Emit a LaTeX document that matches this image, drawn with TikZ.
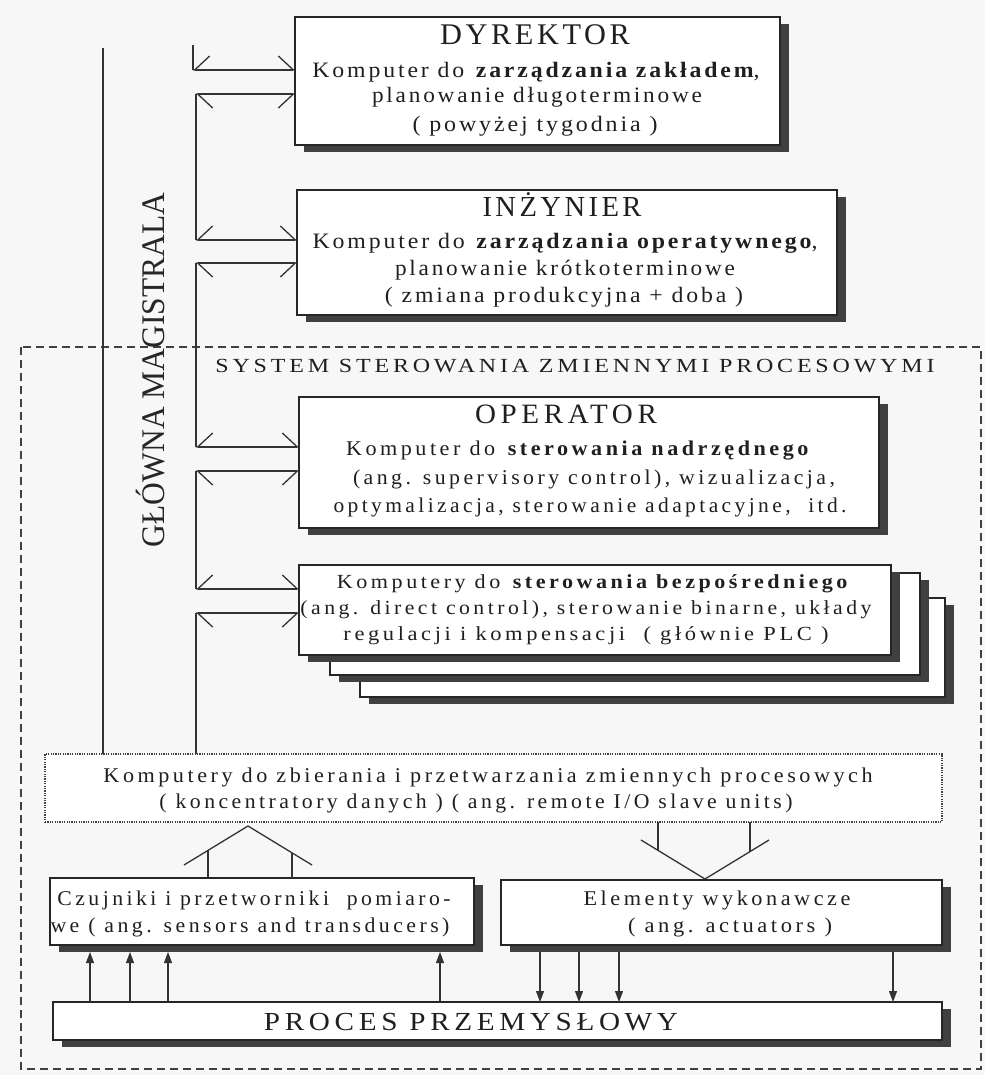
\documentclass[tikz,border=0pt]{standalone}
\usepackage{fontspec}
\setmainfont{Liberation Serif}
\newfontfamily\spc[LetterSpace=12]{Liberation Serif}
\newfontfamily\spcn[LetterSpace=14,FakeStretch=0.88]{Liberation Serif}
\usetikzlibrary{arrows.meta,shadows}
\newcommand\fitw[2]{\resizebox{#1pt}{\height}{#2}}
\tikzset{
  box/.style={draw=black!85, line width=1.3pt, fill=white, inner sep=0pt, outer sep=0pt, anchor=north west,
    drop shadow={shadow xshift=9pt, shadow yshift=-7pt, fill=black!75, opacity=1}},
  dotbox/.style={draw=black!75, line width=1.4pt, dash pattern=on 1.2pt off 1.2pt, fill=white, inner sep=0pt, outer sep=0pt, anchor=north west},
  txt/.style={inner sep=0pt, anchor=base, text=black!88},
  ln/.style={draw=black!80, line width=1.3pt},
  busU/.style={ln, {Straight Barb[harpoon,swap,length=15pt,width=28pt]}-{Straight Barb[harpoon,length=15pt,width=28pt]}},
  busD/.style={ln, {Straight Barb[harpoon,length=15pt,width=28pt]}-{Straight Barb[harpoon,swap,length=15pt,width=28pt]}},
  sig/.style={ln, line width=1.1pt, -{Triangle[length=11pt,width=8pt]}},
  frame/.style={draw=black!75, line width=1.2pt, dash pattern=on 8pt off 5pt}
}
\begin{document}
\begin{tikzpicture}[x=1pt,y=-1pt]
\useasboundingbox[fill=black!3] (0,0) rectangle (985,1075);
% dashed frame
\draw[frame] (21,347) rectangle (981,1069);
% boxes
\node[box, minimum width=485pt, minimum height=128pt] (dyr) at (295,17) {};
\node[box, minimum width=540pt, minimum height=125pt] (inz) at (297,190) {};
\node[box, minimum width=580pt, minimum height=131pt] (oper) at (299,397) {};
\node[box, minimum width=585pt, minimum height=99pt] (dc3) at (360,598) {};
\node[box, minimum width=590pt, minimum height=102pt] (dc2) at (330,573) {};
\node[box, minimum width=592pt, minimum height=90pt] (dc1) at (299,565) {};
\node[dotbox, minimum width=897pt, minimum height=68pt] (konc) at (45,754) {};
\node[box, minimum width=424pt, minimum height=67pt] (sens) at (50,878) {};
\node[box, minimum width=441pt, minimum height=65pt] (act) at (501,880) {};
\node[box, minimum width=889pt, minimum height=38pt] (proc) at (53,1002) {};
% texts
\node[txt] (td1) at (535,45) {\fontsize{30}{30}\selectfont\spc\fitw{190}{DYREKTOR}};
\node[txt] (td2) at (536,78) {\fontsize{22}{22}\selectfont\spc\fitw{447}{Komputer do \textbf{zarządzania zakładem},}};
\node[txt] (td3) at (537,103) {\fontsize{22}{22}\selectfont\spc\fitw{330}{planowanie długoterminowe}};
\node[txt] (td4) at (535,132) {\fontsize{22}{22}\selectfont\spc\fitw{245}{( powyżej tygodnia )}};
\node[txt] (ti1) at (562,217) {\fontsize{29}{29}\selectfont\spc\fitw{159}{INŻYNIER}};
\node[txt] (ti2) at (565,248) {\fontsize{22}{22}\selectfont\spc\fitw{505}{Komputer do \textbf{zarządzania operatywnego},}};
\node[txt] (ti3) at (565,275) {\fontsize{22}{22}\selectfont\spc\fitw{340}{planowanie krótkoterminowe}};
\node[txt] (ti4) at (564,302) {\fontsize{22}{22}\selectfont\spc\fitw{358}{( zmiana produkcyjna + doba )}};
\node[txt] (tsys) at (575,372) {\fontsize{20}{20}\selectfont\spcn\fitw{719}{SYSTEM STEROWANIA ZMIENNYMI PROCESOWYMI}};
\node[txt] (to1) at (566,423) {\fontsize{28}{28}\selectfont\spcn\fitw{182}{OPERATOR}};
\node[txt] (to2) at (579,455) {\fontsize{21}{21}\selectfont\spcn\fitw{466}{Komputer do \textbf{sterowania nadrzędnego}}};
\node[txt] (to3) at (594,484) {\fontsize{21}{21}\selectfont\spcn\fitw{482}{(ang. supervisory control), wizualizacja,}};
\node[txt] (to4) at (590,512) {\fontsize{21}{21}\selectfont\spcn\fitw{513}{optymalizacja, sterowanie adaptacyjne,\ \ itd.}};
\node[txt] (tc1) at (594,588) {\fontsize{20}{20}\selectfont\spcn\fitw{514}{Komputery do \textbf{sterowania bezpośredniego}}};
\node[txt] (tc2) at (586,614) {\fontsize{20}{20}\selectfont\spcn\fitw{571}{(ang. direct control), sterowanie binarne, układy}};
\node[txt] (tc3) at (586,640) {\fontsize{20}{20}\selectfont\spcn\fitw{485}{regulacji i kompensacji\ \ ( głównie PLC )}};
\node[txt] (tk1) at (488,782) {\fontsize{21}{21}\selectfont\spcn\fitw{769}{Komputery do zbierania i przetwarzania zmiennych procesowych}};
\node[txt] (tk2) at (476,808) {\fontsize{21}{21}\selectfont\spcn\fitw{633}{( koncentratory danych ) ( ang. remote I/O slave units)}};
\node[txt] (ts1) at (254,905) {\fontsize{21}{21}\selectfont\spcn\fitw{393}{Czujniki i przetworniki\ \ pomiaro-}};
\node[txt] (ts2) at (250,932) {\fontsize{21}{21}\selectfont\spcn\fitw{399}{we ( ang. sensors and transducers)}};
\node[txt] (ta1) at (717,905) {\fontsize{21}{21}\selectfont\spcn\fitw{267}{Elementy wykonawcze}};
\node[txt] (ta2) at (730,932) {\fontsize{21}{21}\selectfont\spcn\fitw{204}{( ang. actuators )}};
\node[txt] (tp1) at (471,1030) {\fontsize{26}{26}\selectfont\spcn\fitw{414}{PROCES PRZEMYSŁOWY}};
\node[inner sep=0pt, rotate=90, text=black!85] (tmag) at (151,370) {\fontsize{33}{33}\selectfont\fitw{354}{GŁÓWNA MAGISTRALA}};
% main bus
\coordinate (mb) at (103,48);
\draw[ln, line width=1.5pt] (mb) -- (mb |- konc.north);
% chain of bus connections
\coordinate (j0) at (193,45);
\coordinate (j1) at (193,70);
\coordinate (j2) at (196,94);
\coordinate (j3) at (196,240);
\coordinate (j4) at (196,263);
\coordinate (j5) at (196,447);
\coordinate (j6) at (196,471);
\coordinate (j7) at (196,589);
\coordinate (j8) at (196,613);
\draw[ln] (j0) -- (j1);
\draw[busU] (j1) -- (j1 -| dyr.west);
\draw[busD] (j2) -- (j2 -| dyr.west);
\draw[ln] (j2) -- (j3);
\draw[busU] (j3) -- (j3 -| inz.west);
\draw[busD] (j4) -- (j4 -| inz.west);
\draw[ln] (j4) -- (j5);
\draw[busU] (j5) -- (j5 -| oper.west);
\draw[busD] (j6) -- (j6 -| oper.west);
\draw[ln] (j6) -- (j7);
\draw[busU] (j7) -- (j7 -| dc1.west);
\draw[busD] (j8) -- (j8 -| dc1.west);
\draw[ln] (j8) -- (j8 |- konc.north);
% sensors -> koncentrator (house)
\coordinate (hA) at (248,826);
\coordinate (hL) at (184,865);
\coordinate (hR) at (312,865);
\coordinate (hl1) at (208,850.4);
\coordinate (hr1) at (292,852.8);
\draw[ln] (hL) -- (hA) -- (hR);
\draw[ln] (sens.north -| hl1) -- (hl1);
\draw[ln] (sens.north -| hr1) -- (hr1);
% koncentrator -> actuators (V)
\coordinate (vA) at (705,879);
\coordinate (vL) at (641,840);
\coordinate (vR) at (769,840);
\coordinate (vl1) at (658,850.4);
\coordinate (vr1) at (750,851.6);
\draw[ln] (vL) -- (vA) -- (vR);
\draw[ln] (konc.south -| vl1) -- (vl1);
\draw[ln] (konc.south -| vr1) -- (vr1);
% process -> sensors
\foreach \x [count=\i] in {90,130,168,440} {
  \coordinate (u\i) at (\x,0);
  \draw[sig] (proc.north -| u\i) -- ([yshift=-7pt]sens.south -| u\i);
}
% actuators -> process
\foreach \x [count=\i] in {540,579,619,893} {
  \coordinate (w\i) at (\x,0);
  \draw[sig] ([yshift=-7pt]act.south -| w\i) -- (proc.north -| w\i);
}
\end{tikzpicture}
\end{document}
